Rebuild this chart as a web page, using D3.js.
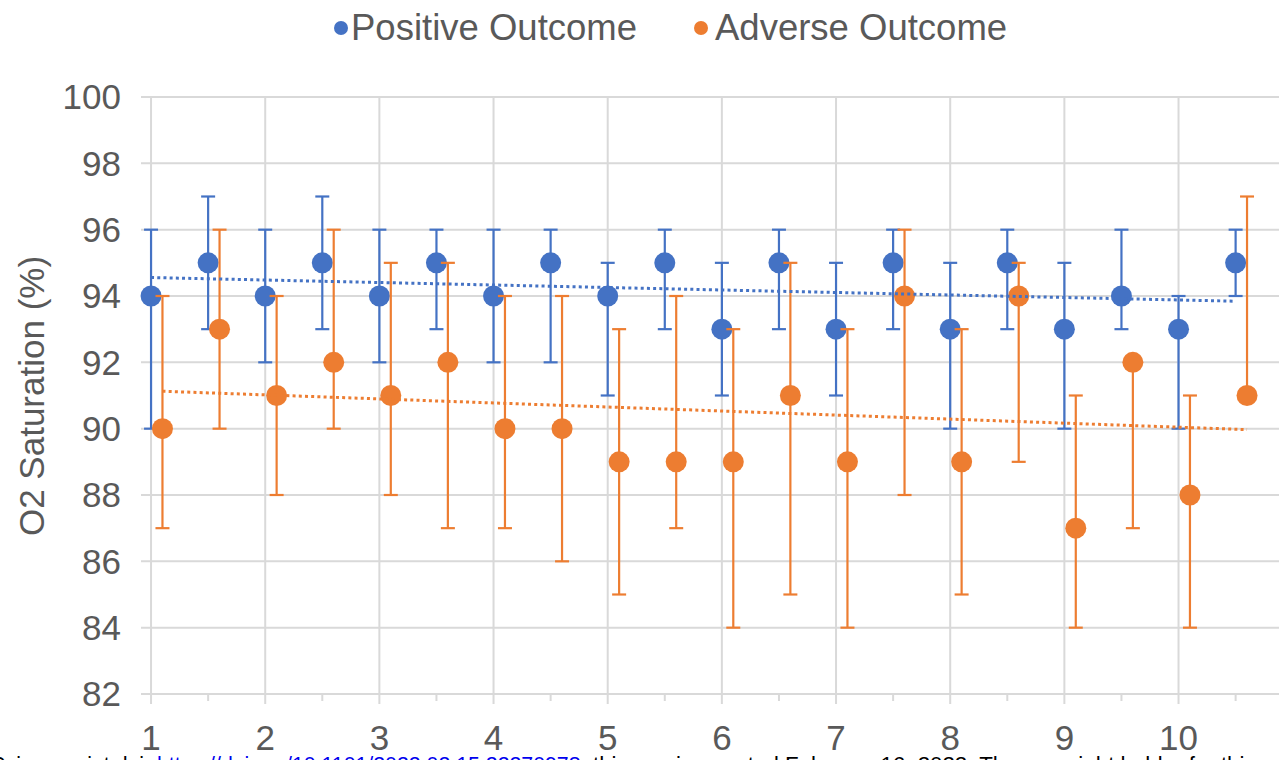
<!DOCTYPE html>
<html>
<head>
<meta charset="utf-8">
<script src="https://cdn.jsdelivr.net/npm/d3@7"></script>
<style>
  html, body { margin: 0; padding: 0; background: #fff; overflow: hidden; }
  svg { display: block; }
</style>
</head>
<body>
<svg id="chart" width="1279" height="760"></svg>
<script>
// ---- Data ----
const positiveX    = [1, 1.5, 2, 2.5, 3, 3.5, 4, 4.5, 5, 5.5, 6, 6.5, 7, 7.5, 8, 8.5, 9, 9.5, 10, 10.5];
const positiveY    = [94, 95, 94, 95, 94, 95, 94, 95, 94, 95, 93, 95, 93, 95, 93, 95, 93, 94, 93, 95];
const positiveHigh = [96, 97, 96, 97, 96, 96, 96, 96, 95, 96, 95, 96, 95, 96, 95, 96, 95, 96, 94, 96];
const positiveLow  = [90, 93, 92, 93, 92, 93, 92, 92, 91, 93, 91, 93, 91, 93, 90, 93, 90, 93, 90, 94];

const adverseX    = [1.1, 1.6, 2.1, 2.6, 3.1, 3.6, 4.1, 4.6, 5.1, 5.6, 6.1, 6.6, 7.1, 7.6, 8.1, 8.6, 9.1, 9.6, 10.1, 10.6];
const adverseY    = [90, 93, 91, 92, 91, 92, 90, 90, 89, 89, 89, 91, 89, 94, 89, 94, 87, 92, 88, 91];
const adverseHigh = [94, 96, 94, 96, 95, 95, 94, 94, 93, 94, 93, 95, 93, 96, 93, 95, 91, 92, 91, 97];
const adverseLow  = [87, 90, 88, 90, 88, 87, 87, 86, 85, 87, 84, 85, 84, 88, 85, 89, 84, 87, 84, 91];

const yTicks = [82, 84, 86, 88, 90, 92, 94, 96, 98, 100];
const xTicks = [1, 2, 3, 4, 5, 6, 7, 8, 9, 10];
const xMinorTicks = [1.5, 2.5, 3.5, 4.5, 5.5, 6.5, 7.5, 8.5, 9.5, 10.5];
const seriesNames = ["Positive Outcome", "Adverse Outcome"];
const yTitle = "O2 Saturation (%)";
const footPrefix = "medRxiv preprint doi:";
const footLink = "https://doi.org/10.1101/2022.02.15.22270978";
const footSuffix = "; this version posted February 16, 2022. The copyright holder for this";

// ---- Setup ----
const BLUE = "#4472C4", ORANGE = "#ED7D31", GRID = "#d9d9d9", TXT = "#595959";
const FONT = "'Liberation Sans', Arial, Helvetica, sans-serif";
const svg = d3.select("#chart");

const x = d3.scaleLinear().domain([0.912, 10.88]).range([141, 1279]);
const y = d3.scaleLinear().domain([82, 100]).range([694, 97]);

// Gridlines
const g = svg.append("g");
g.selectAll("line.h").data(yTicks).join("line")
  .attr("x1", x.range()[0]).attr("x2", x.range()[1])
  .attr("y1", d => y(d)).attr("y2", d => y(d))
  .attr("stroke", GRID).attr("stroke-width", 2);
g.selectAll("line.v").data(xTicks).join("line")
  .attr("x1", d => x(d)).attr("x2", d => x(d))
  .attr("y1", y(100)).attr("y2", y(82) + 10)
  .attr("stroke", GRID).attr("stroke-width", 2);
g.selectAll("line.m").data(xMinorTicks).join("line")
  .attr("x1", d => x(d)).attr("x2", d => x(d))
  .attr("y1", y(82)).attr("y2", y(82) + 7)
  .attr("stroke", GRID).attr("stroke-width", 2);

// Y axis labels
svg.append("g").selectAll("text").data(yTicks).join("text")
  .attr("x", 121).attr("y", d => y(d)).attr("dy", "0.35em")
  .attr("text-anchor", "end")
  .attr("font-family", FONT).attr("font-size", 35).attr("fill", TXT)
  .text(d => d);

// X axis labels
svg.append("g").selectAll("text").data(xTicks).join("text")
  .attr("x", d => x(d)).attr("y", 750)
  .attr("text-anchor", "middle")
  .attr("font-family", FONT).attr("font-size", 35).attr("fill", TXT)
  .text(d => d);

// Y title
svg.append("text")
  .attr("transform", "translate(44,396) rotate(-90)")
  .attr("text-anchor", "middle")
  .attr("font-family", FONT).attr("font-size", 35).attr("fill", TXT)
  .text(yTitle);

// Series drawing
function drawSeries(xs, ys, hi, lo, color) {
  const data = xs.map((v, i) => ({x: v, y: ys[i], hi: hi[i], lo: lo[i]}));
  const grp = svg.append("g");
  const cap = 7;
  grp.selectAll("line.bar").data(data).join("line")
    .attr("x1", d => x(d.x)).attr("x2", d => x(d.x))
    .attr("y1", d => y(d.hi)).attr("y2", d => y(d.lo))
    .attr("stroke", color).attr("stroke-width", 2.2);
  grp.selectAll("line.capt").data(data.filter(d => d.hi !== d.y)).join("line")
    .attr("x1", d => x(d.x) - cap).attr("x2", d => x(d.x) + cap)
    .attr("y1", d => y(d.hi)).attr("y2", d => y(d.hi))
    .attr("stroke", color).attr("stroke-width", 2.2);
  grp.selectAll("line.capb").data(data.filter(d => d.lo !== d.y)).join("line")
    .attr("x1", d => x(d.x) - cap).attr("x2", d => x(d.x) + cap)
    .attr("y1", d => y(d.lo)).attr("y2", d => y(d.lo))
    .attr("stroke", color).attr("stroke-width", 2.2);
  grp.selectAll("circle").data(data).join("circle")
    .attr("cx", d => x(d.x)).attr("cy", d => y(d.y)).attr("r", 10.5)
    .attr("fill", color);
  return data;
}

function trend(xs, ys, color) {
  const mx = d3.mean(xs), my = d3.mean(ys);
  let sxy = 0, sxx = 0;
  xs.forEach((v, i) => { sxy += (v - mx) * (ys[i] - my); sxx += (v - mx) * (v - mx); });
  const b = sxy / sxx, a = my - b * mx;
  const x0 = d3.min(xs), x1 = d3.max(xs);
  svg.append("line")
    .attr("x1", x(x0)).attr("x2", x(x1))
    .attr("y1", y(a + b * x0)).attr("y2", y(a + b * x1))
    .attr("stroke", color).attr("stroke-width", 3)
    .attr("stroke-dasharray", "3,3.2");
}

drawSeries(positiveX, positiveY, positiveHigh, positiveLow, BLUE);
drawSeries(adverseX, adverseY, adverseHigh, adverseLow, ORANGE);
trend(positiveX, positiveY, BLUE);
trend(adverseX, adverseY, ORANGE);

// Legend
const legend = [
  {name: seriesNames[0], color: BLUE, cx: 341, tx: 351},
  {name: seriesNames[1], color: ORANGE, cx: 701, tx: 715}
];
const lg = svg.append("g");
lg.selectAll("circle").data(legend).join("circle")
  .attr("cx", d => d.cx).attr("cy", 28).attr("r", 7).attr("fill", d => d.color);
lg.selectAll("text").data(legend).join("text")
  .attr("x", d => d.tx).attr("y", 40)
  .attr("font-family", FONT).attr("font-size", 36.5).attr("fill", TXT)
  .text(d => d.name);

// Footer (cut-off preprint line at the bottom edge)
const fy = 772;
svg.append("text").attr("x", 150).attr("y", fy).attr("text-anchor", "end")
  .attr("font-family", FONT).attr("font-size", 21.3).attr("fill", "#000")
  .text(footPrefix);
const link = svg.append("text").attr("x", 157).attr("y", fy)
  .attr("font-family", FONT).attr("font-size", 21.3).attr("fill", "#0000ee")
  .text(footLink);
const lw = link.node().getComputedTextLength();
svg.append("text").attr("x", 157 + lw).attr("y", fy)
  .attr("font-family", FONT).attr("font-size", 22.3).attr("fill", "#000")
  .text(footSuffix);
</script>
</body>
</html>
